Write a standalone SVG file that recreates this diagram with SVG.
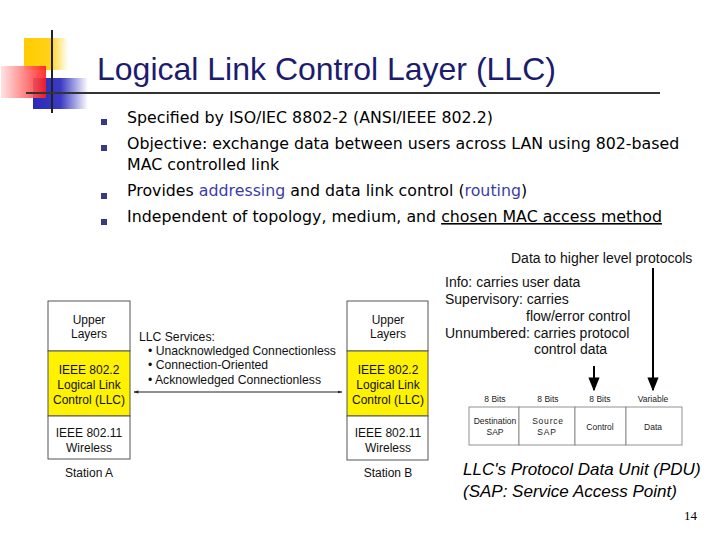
<svg xmlns="http://www.w3.org/2000/svg" width="720" height="540" viewBox="0 0 720 540">
<defs>
<linearGradient id="gy" x1="0" y1="0" x2="1" y2="0"><stop offset="0" stop-color="#ffcc00"/><stop offset="0.6" stop-color="#ffd21a"/><stop offset="1" stop-color="#ffffff"/></linearGradient>
<linearGradient id="gr" x1="0" y1="0" x2="1" y2="0"><stop offset="0" stop-color="#ffe0e0"/><stop offset="1" stop-color="#ff1a1a"/></linearGradient>
<linearGradient id="gb" x1="0" y1="0" x2="1" y2="0"><stop offset="0" stop-color="#2a2ab8"/><stop offset="0.5" stop-color="#3a3ac4"/><stop offset="1" stop-color="#ffffff"/></linearGradient>
<marker id="ah" viewBox="0 0 10 10" refX="9" refY="5" markerWidth="7" markerHeight="7" orient="auto-start-reverse"><path d="M0,1 L10,5 L0,9 z" fill="#000"/></marker>
<marker id="as" viewBox="0 0 10 10" refX="9" refY="5" markerWidth="5" markerHeight="5" orient="auto-start-reverse"><path d="M0,2 L10,5 L0,8 z" fill="#222"/></marker>
</defs>
<style>
.title{font-family:"Liberation Sans",Arial,sans-serif;font-size:32px;fill:#1c1c6e}
.bt{font-family:"DejaVu Sans",Tahoma,sans-serif;font-size:15.8px;fill:#000}
.blue{fill:#3c3ca8}
.bul{fill:#3a3a80}
.st{font-family:"Liberation Sans",Arial,sans-serif;font-size:12px;fill:#111;text-anchor:middle}
.sv{font-family:"Liberation Sans",Arial,sans-serif;font-size:12.2px;fill:#111}
.nt{font-family:"Liberation Sans",Arial,sans-serif;font-size:14px;fill:#111}
.pd{font-family:"Liberation Sans",Arial,sans-serif;font-size:8.5px;fill:#222;text-anchor:middle}
.cap{font-family:"Liberation Sans",Arial,sans-serif;font-size:17px;font-style:italic;fill:#000}
.box{fill:#fff;stroke:#555;stroke-width:1}
.yel{fill:#fff200;stroke:#555;stroke-width:1}
.cell{fill:#fff;stroke:#777;stroke-width:0.8}
</style>
<rect width="720" height="540" fill="#fff"/>
<g id="logo">
<rect x="24" y="38" width="44" height="32" fill="url(#gy)"/>
<rect x="33" y="78" width="55" height="31" fill="url(#gb)"/>
<rect x="1" y="66" width="45" height="32" fill="url(#gr)" opacity="0.9"/>
<line x1="52" y1="30" x2="52" y2="113" stroke="#222" stroke-width="2"/>
<line x1="26" y1="93" x2="660" y2="93" stroke="#333" stroke-width="2"/>
</g>
<text class="title" x="97" y="80">Logical Link Control Layer (LLC)</text>
<g id="bullets">
<rect class="bul" x="101" y="119" width="6" height="6"/>
<rect class="bul" x="101" y="145" width="6" height="6"/>
<rect class="bul" x="101" y="193" width="6" height="6"/>
<rect class="bul" x="101" y="219" width="6" height="6"/>
<text class="bt" x="127" y="123">Specified by ISO/IEC 8802-2 (ANSI/IEEE 802.2)</text>
<text class="bt" x="127" y="149">Objective: exchange data between users across LAN using 802-based</text>
<text class="bt" x="127" y="170">MAC controlled link</text>
<text class="bt" x="127" y="196">Provides <tspan class="blue">addressing</tspan> and data link control (<tspan class="blue">routing</tspan>)</text>
<text class="bt" x="127" y="222">Independent of topology, medium, and <tspan text-decoration="underline">chosen MAC access method</tspan></text>
</g>
<g id="stationA">
<rect class="box" x="48" y="301" width="82" height="50"/>
<rect class="yel" x="48" y="351" width="82" height="65"/>
<rect class="box" x="48" y="416" width="82" height="43"/>
<text class="st" x="89" y="324">Upper</text>
<text class="st" x="89" y="338">Layers</text>
<text class="st" x="89" y="374">IEEE 802.2</text>
<text class="st" x="89" y="389">Logical Link</text>
<text class="st" x="89" y="404">Control (LLC)</text>
<text class="st" x="89" y="437">IEEE 802.11</text>
<text class="st" x="89" y="452">Wireless</text>
<text class="st" x="89" y="477">Station A</text>
</g>
<g id="stationB">
<rect class="box" x="347" y="301" width="81" height="50"/>
<rect class="yel" x="347" y="351" width="81" height="65"/>
<rect class="box" x="347" y="416" width="81" height="44"/>
<text class="st" x="388" y="324">Upper</text>
<text class="st" x="388" y="338">Layers</text>
<text class="st" x="388" y="374">IEEE 802.2</text>
<text class="st" x="388" y="389">Logical Link</text>
<text class="st" x="388" y="404">Control (LLC)</text>
<text class="st" x="388" y="437">IEEE 802.11</text>
<text class="st" x="388" y="452">Wireless</text>
<text class="st" x="388" y="477">Station B</text>
</g>
<g id="services">
<text class="sv" x="139" y="341" font-size="12.8">LLC Services:</text>
<text class="sv" x="148" y="355">• Unacknowledged Connectionless</text>
<text class="sv" x="148" y="369">• Connection-Oriented</text>
<text class="sv" x="148" y="384">• Acknowledged Connectionless</text>
</g>
<g id="notes">
<text class="nt" x="511" y="263">Data to higher level protocols</text>
<text class="nt" x="445" y="287">Info: carries user data</text>
<text class="nt" x="445" y="304">Supervisory: carries</text>
<text class="nt" x="526" y="321">flow/error control</text>
<text class="nt" x="445" y="338">Unnumbered: carries protocol</text>
<text class="nt" x="534" y="354">control data</text>
</g>
<g id="pdu">
<text class="pd" x="495" y="402">8 Bits</text>
<text class="pd" x="548" y="402">8 Bits</text>
<text class="pd" x="600" y="402">8 Bits</text>
<text class="pd" x="653" y="402">Variable</text>
<rect class="cell" x="469" y="407" width="50" height="38"/>
<rect class="cell" x="519" y="407" width="56" height="38"/>
<rect class="cell" x="575" y="407" width="51" height="38"/>
<rect class="cell" x="626" y="407" width="56" height="38"/>
<text class="pd" x="495" y="424">Destination</text>
<text class="pd" x="495" y="435">SAP</text>
<text class="pd" x="548" y="424" letter-spacing="0.8">Source</text>
<text class="pd" x="547" y="435" letter-spacing="0.8">SAP</text>
<text class="pd" x="600" y="430">Control</text>
<text class="pd" x="653" y="430">Data</text>
</g>
<g id="connectors">
<line x1="134" y1="392" x2="342" y2="392" stroke="#222" stroke-width="1" marker-start="url(#as)" marker-end="url(#as)"/>
<line x1="653" y1="268" x2="653" y2="390" stroke="#000" stroke-width="2" marker-end="url(#ah)"/>
<line x1="594" y1="366" x2="594" y2="390" stroke="#000" stroke-width="2" marker-end="url(#ah)"/>
</g>
<text class="cap" x="463" y="475">LLC's Protocol Data Unit (PDU)</text>
<text class="cap" x="463" y="497">(SAP: Service Access Point)</text>
<text x="684" y="520" font-family="Liberation Serif,serif" font-size="13" fill="#000">14</text>
</svg>
